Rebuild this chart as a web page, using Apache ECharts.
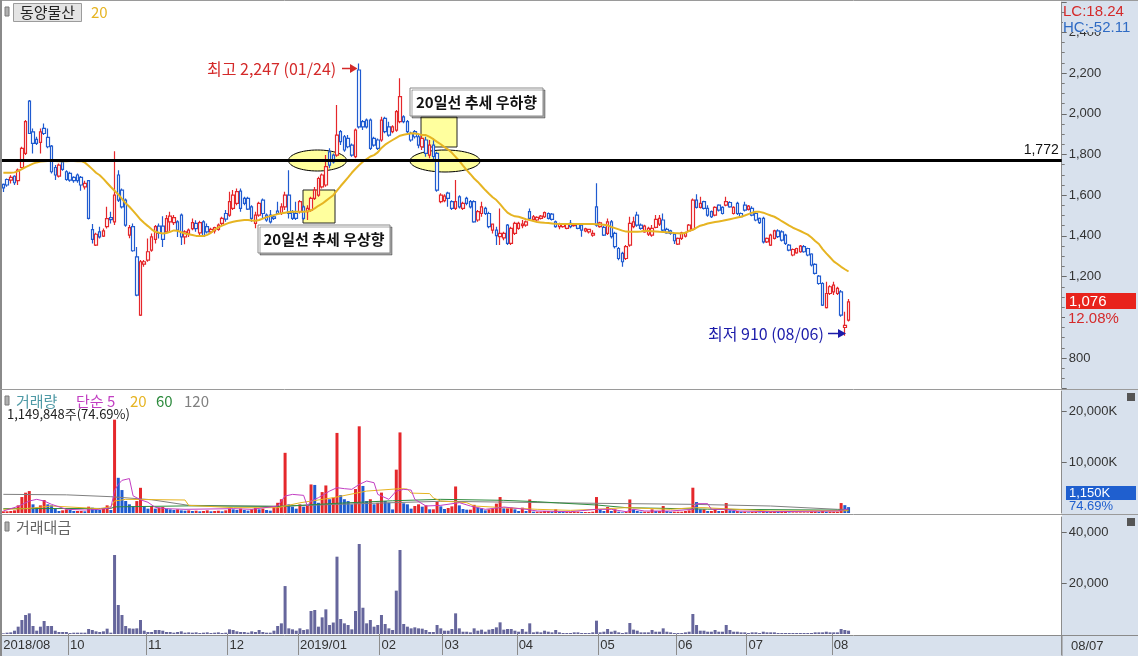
<!DOCTYPE html>
<html><head><meta charset="utf-8">
<script src="https://cdn.jsdelivr.net/npm/echarts@6/dist/echarts.min.js"></script>
<style>html,body{margin:0;padding:0;background:#fff;}#c{width:1138px;height:656px;}</style>
</head><body><div id="c"></div>
<script>
// trading days per month (categories)
const tradingDays = [
 ['2018','08',[31]],
 ['2018','09',[3,4,5,6,7,10,11,12,13,14,17,18,19,20,21,27,28]],
 ['2018','10',[1,2,4,5,8,10,11,12,15,16,17,18,19,22,23,24,25,26,29,30,31]],
 ['2018','11',[1,2,5,6,7,8,9,12,13,14,15,16,19,20,21,22,23,26,27,28,29,30]],
 ['2018','12',[3,4,5,6,7,10,11,12,13,14,17,18,19,20,21,24,26,27,28]],
 ['2019','01',[2,3,4,7,8,9,10,11,14,15,16,17,18,21,22,23,24,25,28,29,30,31]],
 ['2019','02',[1,7,8,11,12,13,14,15,18,19,20,21,22,25,26,27,28]],
 ['2019','03',[4,5,6,7,8,11,12,13,14,15,18,19,20,21,22,25,26,27,28,29]],
 ['2019','04',[1,2,3,4,5,8,9,10,11,12,15,16,17,18,19,22,23,24,25,26,29,30]],
 ['2019','05',[2,3,7,8,9,10,13,14,15,16,17,20,21,22,23,24,27,28,29,30,31]],
 ['2019','06',[3,4,5,7,10,11,12,13,14,17,18,19,20,21,24,25,26,27,28]],
 ['2019','07',[1,2,3,4,5,8,9,10,11,12,15,16,17,18,19,22,23,24,25,26,29,30,31]],
 ['2019','08',[1,2,5,6,7]]
];
const opens = [
1653,1677,1674,1693,1671,1736,1805,2062,1911,1874,
1859,1928,1884,1841,1736,1694,1764,1715,1707,1687,
1699,1687,1641,1671,1431,1355,1420,1399,1445,1490,
1469,1699,1625,1576,1404,1445,1297,1011,1261,1281,
1330,1383,1448,1448,1420,1469,1465,1469,1502,1395,
1412,1436,1461,1415,1469,1445,1420,1425,1432,1461,
1510,1502,1535,1560,1620,1584,1584,1543,1461,1502,
1576,1502,1502,1494,1522,1510,1543,1600,1515,1510,
1519,1543,1519,1527,1584,1600,1641,1650,1813,1797,
1797,1912,1887,1879,1846,1789,2215,1961,1969,1969,
1879,1871,1871,1977,1936,1912,1920,1961,1985,1961,
1904,1912,1887,1838,1871,1797,1846,1805,1568,1573,
1610,1568,1535,1592,1535,1584,1568,1568,1478,1510,
1535,1510,1428,1428,1396,1390,1453,1363,1412,1437,
1450,1453,1519,1481,1478,1486,1494,1510,1507,1469,
1445,1445,1437,1461,1450,1458,1453,1424,1420,1404,
1543,1445,1442,1412,1469,1412,1338,1314,1289,1355,
1445,1502,1453,1420,1409,1404,1442,1458,1478,1432,
1425,1409,1360,1388,1399,1425,1432,1576,1540,1568,
1535,1519,1502,1551,1540,1551,1564,1510,1560,1510,
1551,1530,1535,1510,1486,1486,1371,1355,1388,1425,
1420,1404,1355,1306,1317,1322,1347,1338,1311,1260,
1202,1166,1048,1117,1125,1117,1125,950,986];
const closes = [
1636,1650,1687,1661,1723,1830,1961,1903,1854,1854,
1911,1903,1838,1715,1699,1748,1727,1677,1674,1671,
1671,1650,1658,1486,1383,1408,1395,1425,1485,1480,
1600,1576,1543,1453,1441,1327,1109,1273,1273,1322,
1395,1445,1412,1383,1485,1497,1490,1428,1395,1420,
1428,1465,1436,1465,1399,1420,1432,1441,1453,1486,
1482,1568,1600,1617,1535,1560,1531,1486,1502,1560,
1510,1478,1469,1486,1510,1543,1600,1510,1486,1486,
1568,1486,1535,1584,1625,1682,1699,1740,1748,1764,
1895,1863,1822,1838,1797,1920,1936,1936,1936,1830,
1846,1830,1969,1912,1895,1936,2010,2084,1961,1912,
1871,1887,1846,1879,1805,1846,1790,1625,1600,1595,
1584,1535,1568,1543,1560,1560,1543,1469,1519,1543,
1510,1445,1458,1401,1412,1412,1363,1437,1461,1461,
1458,1469,1486,1494,1491,1497,1514,1486,1481,1445,
1458,1456,1456,1445,1456,1437,1428,1434,1432,1412,
1453,1464,1404,1469,1396,1347,1289,1273,1347,1461,
1469,1453,1437,1448,1437,1437,1481,1486,1428,1415,
1412,1376,1388,1415,1415,1453,1576,1540,1560,1535,
1502,1494,1540,1527,1510,1568,1543,1540,1510,1494,
1527,1546,1502,1478,1465,1371,1388,1404,1425,1396,
1379,1363,1330,1333,1338,1350,1322,1306,1257,1216,
1166,1060,1117,1150,1158,1142,1011,960,1076];
const lows = [
1616,1641,1657,1650,1650,1731,1797,1903,1805,1846,
1805,1895,1830,1707,1674,1687,1720,1671,1666,1661,
1661,1622,1628,1481,1363,1350,1387,1395,1436,1461,
1453,1567,1535,1445,1388,1322,1104,1006,1248,1273,
1322,1363,1387,1346,1412,1420,1453,1395,1355,1359,
1395,1428,1420,1404,1395,1412,1412,1412,1425,1453,
1469,1494,1527,1551,1519,1551,1527,1469,1437,1494,
1486,1469,1461,1478,1502,1502,1527,1486,1478,1478,
1510,1478,1478,1519,1576,1592,1633,1641,1732,1756,
1789,1846,1813,1830,1789,1781,1928,1920,1928,1822,
1838,1822,1863,1904,1887,1904,1912,1953,1953,1904,
1863,1879,1830,1822,1789,1781,1772,1617,1560,1565,
1543,1527,1527,1535,1527,1551,1535,1464,1469,1494,
1502,1437,1412,1355,1355,1379,1355,1355,1404,1430,
1437,1445,1478,1469,1470,1480,1488,1480,1475,1440,
1432,1440,1432,1437,1445,1432,1396,1418,1412,1396,
1445,1440,1399,1404,1387,1338,1280,1248,1282,1347,
1437,1445,1430,1415,1400,1396,1437,1448,1420,1410,
1405,1360,1355,1380,1392,1420,1425,1535,1535,1530,
1494,1488,1496,1520,1505,1545,1538,1505,1502,1490,
1520,1525,1496,1472,1458,1363,1365,1350,1382,1390,
1372,1355,1325,1300,1312,1317,1317,1300,1250,1210,
1160,1055,1043,1110,1109,1110,1003,910,980];
const highs = [
1657,1682,1698,1698,1731,1838,1969,2067,1928,1887,
1928,1952,1928,1846,1748,1756,1769,1723,1715,1693,
1707,1694,1671,1674,1458,1415,1445,1436,1543,1518,
1816,1723,1633,1584,1453,1461,1346,1281,1281,1387,
1412,1453,1461,1497,1502,1518,1502,1477,1510,1428,
1436,1485,1477,1474,1477,1461,1440,1445,1461,1494,
1527,1617,1625,1633,1633,1592,1592,1551,1519,1568,
1584,1510,1527,1502,1568,1560,1617,1723,1527,1568,
1576,1551,1551,1592,1640,1691,1707,1797,1830,1805,
2043,1920,1895,1895,1854,1928,2247,1969,1977,1977,
1887,1879,1985,1985,1961,1944,2018,2174,1993,1969,
1912,1920,1895,1895,1887,1871,1879,1813,1610,1605,
1617,1575,1674,1600,1568,1592,1576,1575,1527,1568,
1543,1519,1461,1445,1535,1420,1458,1445,1469,1469,
1478,1475,1535,1502,1497,1502,1520,1515,1512,1475,
1464,1462,1460,1478,1460,1462,1461,1440,1435,1428,
1658,1470,1450,1486,1478,1420,1345,1322,1355,1494,
1494,1519,1461,1455,1445,1453,1502,1502,1510,1440,
1430,1412,1392,1420,1420,1458,1584,1605,1592,1572,
1551,1525,1545,1556,1545,1592,1570,1545,1568,1515,
1568,1552,1545,1515,1490,1494,1392,1410,1430,1432,
1428,1410,1360,1338,1342,1355,1355,1342,1315,1265,
1208,1172,1175,1158,1175,1150,1134,1027,1090];
const ma20Price = [
1710,1710,1710,1712,1718,1728,1738,1746,1755,1761,
1765,1767,1768,1768,1768,1767,1767,1767,1768,1768,
1767,1767,1760,1745,1728,1710,1698,1680,1660,1640,
1622,1604,1582,1560,1543,1523,1502,1480,1463,1448,
1432,1420,1415,1412,1414,1420,1427,1425,1418,1412,
1408,1404,1400,1399,1399,1405,1415,1430,1442,1450,
1458,1465,1469,1473,1476,1478,1478,1476,1474,1478,
1485,1492,1497,1502,1507,1511,1514,1517,1519,1519,
1519,1519,1521,1525,1535,1548,1558,1572,1586,1600,
1622,1645,1666,1687,1710,1730,1748,1764,1777,1790,
1797,1810,1832,1848,1860,1871,1882,1892,1897,1900,
1904,1903,1900,1895,1895,1886,1875,1862,1850,1836,
1824,1808,1788,1768,1745,1723,1703,1682,1665,1645,
1625,1607,1590,1576,1556,1534,1514,1503,1496,1494,
1488,1482,1478,1473,1468,1466,1464,1463,1461,1459,
1458,1458,1458,1458,1458,1458,1458,1458,1458,1458,
1457,1456,1455,1452,1444,1438,1432,1426,1421,1420,
1420,1420,1422,1425,1424,1423,1422,1420,1419,1418,
1416,1414,1413,1412,1415,1425,1430,1440,1450,1455,
1461,1465,1468,1471,1474,1478,1482,1486,1490,1494,
1500,1507,1514,1519,1518,1514,1507,1500,1494,1484,
1472,1461,1450,1440,1432,1424,1415,1406,1392,1375,
1360,1335,1314,1295,1275,1262,1248,1236,1225];
// volume in thousand shares
const volumes = [
330,330,390,520,1500,3130,3980,4300,1700,1045,
1500,2550,1700,1500,850,390,520,720,590,390,
390,390,330,1240,1045,720,590,850,1500,590,
18300,6900,4500,2350,1700,1360,2340,4940,1300,850,
1370,850,1045,1180,850,720,590,720,520,450,
520,390,450,330,390,520,330,390,450,330,
520,850,720,590,850,590,460,720,1045,720,
850,590,460,1300,2000,2700,11800,1700,1240,850,
1700,1240,1500,5600,5500,2000,4100,5400,2700,3000,
15700,3500,2700,2340,1700,4700,17000,5300,2340,2700,
1700,2000,4000,2340,2000,700,8500,15800,1900,1700,
850,1370,1700,1240,1500,720,720,2200,1300,780,
975,1300,5200,1500,780,650,650,1600,1045,910,
520,720,850,1830,3130,910,910,1045,720,390,
1045,390,2660,260,260,260,390,390,260,720,
260,200,200,200,260,260,200,200,200,260,
3130,720,390,1170,390,720,260,130,260,2660,
720,390,260,260,260,720,390,390,1370,390,
260,260,260,260,390,520,4960,2150,720,720,
390,390,720,390,390,1960,520,390,390,260,
260,130,200,200,130,390,260,260,260,200,
200,200,130,130,130,130,130,130,260,260,
200,390,260,260,260,260,1950,1540,1150];
// trading value in million won
const tradeValues = [
260,520,650,1300,2875,5490,7450,8100,3140,1300,
2875,5100,3140,3140,1300,780,780,780,390,520,
520,520,520,1960,1570,1045,780,1045,2090,520,
30970,11370,7450,3140,2220,2090,2220,5490,1300,780,
780,1570,1570,1300,780,780,520,780,1045,520,
650,520,650,390,520,650,390,520,650,390,
520,1830,1570,1045,780,780,520,1045,780,1570,
780,520,520,1300,3140,4180,18800,2220,1830,1300,
2220,1570,1830,9020,9410,2875,6535,9670,3530,4500,
30320,5880,4180,3530,1830,9020,35290,10300,4180,5490,
2875,3530,7450,3920,2220,1570,17000,32940,3920,2875,
2220,2610,2220,2090,1570,780,780,3530,2220,1300,
1300,1960,8100,2220,900,900,650,2220,1300,1700,
900,1700,1960,2610,4575,1700,1960,1960,1300,900,
1960,900,4180,650,900,650,1300,900,650,1560,
650,390,390,390,650,650,390,390,390,650,
5230,650,900,1960,900,1300,650,390,650,4310,
1700,1300,650,650,650,1560,900,900,2220,900,
650,390,390,390,650,900,7840,3530,1300,1300,
900,900,1560,900,900,3530,1560,900,900,650,
650,390,650,650,390,900,650,650,650,390,
390,390,390,390,390,390,390,390,390,650,
650,650,900,650,650,650,1960,1570,1300];
// volume moving averages: [dayIndex, thousand shares]
const volMa5 = [[0,400],[4,1300],[7,2350],[9,2680],[11,2350],[13,1700],[17,720],[22,590],[26,720],[29,1000],[30,4400],[31,5600],[32,6400],[34,6750],[35,3360],[37,2600],[39,2100],[41,1100],[44,850],[49,720],[62,850],[67,720],[74,1370],[76,3330],[78,3650],[81,3460],[82,1370],[83,2350],[85,3000],[88,4300],[90,4960],[92,4770],[94,4640],[96,5600],[98,6270],[100,5940],[101,3650],[104,2680],[106,4300],[108,4640],[110,4500],[111,2680],[114,1370],[118,1500],[123,2030],[126,1370],[130,720],[134,1045],[135,1175],[141,720],[144,390],[153,260],[160,720],[164,720],[168,260],[170,720],[173,390],[180,390],[186,720],[187,1830],[190,1830],[191,720],[195,720],[198,390],[207,260],[225,390],[228,800]];
const volMa20 = [[0,720],[6,850],[13,1370],[26,850],[29,1240],[30,2350],[33,2680],[49,2550],[50,1500],[62,1045],[74,1045],[76,1370],[80,2000],[89,3000],[98,4300],[107,4770],[109,4700],[110,3900],[115,3800],[116,2950],[118,2350],[125,2030],[127,1370],[135,1045],[144,720],[153,520],[160,720],[168,1045],[180,720],[186,1045],[189,1045],[207,390],[228,450]];
const volMa60 = [[0,850],[29,900],[30,1200],[50,1400],[75,1300],[90,1900],[105,2400],[118,2680],[135,2480],[144,2220],[150,1960],[160,1570],[168,1050],[190,750],[228,550]];
const volMa120 = [[0,3660],[17,3560],[29,3200],[40,2600],[50,1500],[74,1300],[90,1700],[118,2300],[160,1900],[186,1700],[207,1370],[225,720],[228,700]];
const refLevel = 1772;

// ---- build categories ----
const cats = [];
const labelMap = {};
let lastLab = -100;
tradingDays.forEach(([y, m, ds]) => {
  ds.forEach((d, k) => {
    const idx = cats.length;
    const key = y + '/' + m + '/' + String(d).padStart(2, '0');
    cats.push(key);
    if (k === 0 && idx - lastLab >= 8) {
      labelMap[key] = (idx === 0 || m === '01') ? (y + '/' + m) : m;
      lastLab = idx;
    }
  });
});
const nData = cats.length;
for (let i = nData; i < 286; i++) cats.push('pad' + i);

const ohlc = opens.map((o, i) => [o, closes[i], lows[i], highs[i]]);
const RED = '#e5272b', BLUE = '#1f5bd0';
const volData = volumes.map((v, i) => ({
  value: v,
  itemStyle: { color: (i === 0 || v >= volumes[i - 1]) ? RED : BLUE }
}));

const KR = '"Noto Sans CJK KR", sans-serif';
const NUM = '"Liberation Sans", Arial, sans-serif';
const axisBase = {
  type: 'value', position: 'right', splitLine: { show: false },
  axisLine: { show: true, lineStyle: { color: '#8c8c8c' } },
  axisTick: { show: true, length: 5, lineStyle: { color: '#6a6a6a' } },
  axisLabel: { showMinLabel: false, showMaxLabel: false, color: '#333', fontSize: 13, margin: 7, fontFamily: NUM }
};
const isLab = (i, v) => labelMap[v] !== undefined;

const txt = (x, y, text, fill, size, extra) => ({
  type: 'text', x: x, y: y, z: 100,
  style: Object.assign({ text: text, fill: fill, font: size + 'px ' + KR, textVerticalAlign: 'middle' }, extra || {})
});
const rect = (x, y, w, h, fill, stroke, z, extra) => ({
  type: 'rect', z: z, shape: { x: x, y: y, width: w, height: h },
  style: Object.assign({ fill: fill, stroke: stroke || null, lineWidth: 1 }, extra || {})
});
const line = (x1, y1, x2, y2, stroke, w, z) => ({
  type: 'line', z: z || 50, shape: { x1: x1, y1: y1, x2: x2, y2: y2 }, style: { stroke: stroke, lineWidth: w || 1 }
});

const elements = [
  rect(1062, 0, 76, 636, '#d8e1ed', null, -10),
  rect(0, 636, 1138, 20, '#d8e1ed', null, -10),
  line(0, 0.5, 1138, 0.5, '#9a9a9a', 1),
  line(1, 0, 1, 656, '#8a8a8a', 2),
  line(0, 389.5, 1138, 389.5, '#9a9a9a', 1),
  line(0, 514.5, 1138, 514.5, '#9a9a9a', 1),
  line(0, 635.5, 1138, 635.5, '#8a8a8a', 1),
  line(1062, 636, 1062, 656, '#8a8a8a', 1),
  // price header
  rect(5, 7, 4, 9, '#b0b0b0', '#7a7a7a', 100),
  rect(13.5, 3.5, 68, 18, '#e4e4e4', '#9c9c9c', 100),
  txt(47.5, 12.5, '동양물산', '#222', 15, { textAlign: 'center' }),
  txt(91, 12.5, '20', '#e6b422', 15),
  // volume header
  rect(5, 396, 4, 9, '#b0b0b0', '#7a7a7a', 100),
  txt(16, 401, '거래량', '#4f9aa6', 15),
  txt(76, 401, '단순 5', '#c23ec2', 15),
  txt(130, 401, '20', '#e6b422', 15),
  txt(156, 401, '60', '#2e8b3e', 15),
  txt(184, 401, '120', '#808080', 15),
  txt(7, 414, '1,149,848주(74.69%)', '#222', 13),
  // value header
  rect(5, 522, 4, 9, '#b0b0b0', '#7a7a7a', 100),
  txt(16, 527, '거래대금', '#666', 15),
  // right side info
  txt(1063, 11.5, 'LC:18.24', '#d42a2a', 15, { font: '15px ' + NUM }),
  rect(1063, 20, 74, 12, '#d8e1ed', null, 99),
  txt(1063, 27.5, 'HC:-52.11', '#2f6bc4', 15, { font: '15px ' + NUM }),
  rect(1066, 293, 70, 16, '#e8231c', null, 100),
  txt(1069, 301.5, '1,076', '#fff', 15, { font: '15px ' + NUM }),
  rect(1065, 311, 72, 15, '#d8e1ed', null, 99),
  txt(1068, 318.5, '12.08%', '#d42a2a', 15, { font: '15px ' + NUM }),
  rect(1066, 486, 70, 14, '#1f5fcf', null, 100),
  txt(1069, 493.5, '1,150K', '#fff', 13, { font: '13px ' + NUM }),
  txt(1069, 506.5, '74.69%', '#1f5fcf', 13, { font: '13px ' + NUM }),
  txt(1071, 646, '08/07', '#333', 13, { font: '13px ' + NUM }),
  rect(1127, 393, 8, 8, '#555', null, 100),
  rect(1127, 518, 8, 8, '#555', null, 100),
  // highlight shapes (under candles)
  { type: 'ellipse', z: 1, shape: { cx: 317.5, cy: 160.5, rx: 29, ry: 10.5 }, style: { fill: '#ffff9e', stroke: '#000', lineWidth: 1 } },
  { type: 'ellipse', z: 1, shape: { cx: 445, cy: 161, rx: 35, ry: 11 }, style: { fill: '#ffff9e', stroke: '#000', lineWidth: 1 } },
  rect(303, 190, 32, 33, '#ffff9e', '#222', 1),
  rect(421, 117, 36, 30, '#ffff9e', '#222', 1),
  // text boxes
  rect(258, 225, 132, 28, '#fff', '#8a8a8a', 100, { shadowColor: 'rgba(0,0,0,0.35)', shadowOffsetX: 2, shadowOffsetY: 2, shadowBlur: 0 }),
  txt(324, 239.5, '20일선 추세 우상향', '#111', 15, { textAlign: 'center', font: 'bold 15px ' + KR }),
  rect(410, 88, 133, 28, '#fff', '#8a8a8a', 100, { shadowColor: 'rgba(0,0,0,0.35)', shadowOffsetX: 2, shadowOffsetY: 2, shadowBlur: 0 }),
  txt(476.5, 102.5, '20일선 추세 우하향', '#111', 15, { textAlign: 'center', font: 'bold 15px ' + KR }),
  // high / low annotations
  txt(207, 69, '최고 2,247 (01/24)', '#d42a2a', 16),
  line(342, 68.5, 352, 68.5, '#d42a2a', 1.5, 100),
  { type: 'polygon', z: 100, shape: { points: [[350, 64], [357.5, 68.5], [350, 73]] }, style: { fill: '#d42a2a' } },
  txt(708, 333.5, '최저 910 (08/06)', '#1c1caa', 16),
  line(828, 333.5, 839, 333.5, '#1c1caa', 1.5, 100),
  { type: 'polygon', z: 100, shape: { points: [[838, 329], [846, 333.5], [838, 338]] }, style: { fill: '#1c1caa' } }
];

const gridBox = { left: 1.5, width: 1060.2 };
const option = {
  animation: false,
  backgroundColor: '#ffffff',
  textStyle: { fontFamily: KR },
  grid: [
    Object.assign({ top: 2, height: 386 }, gridBox),
    Object.assign({ top: 391, height: 122 }, gridBox),
    Object.assign({ top: 517, height: 117 }, gridBox)
  ],
  xAxis: [
    { type: 'category', gridIndex: 0, data: cats, boundaryGap: true, show: false },
    { type: 'category', gridIndex: 1, data: cats, boundaryGap: true, show: false },
    { type: 'category', gridIndex: 2, data: cats, boundaryGap: true,
      axisLine: { show: false },
      axisTick: { show: true, interval: isLab, length: 21, lineStyle: { color: '#8c8c8c' } },
      axisLabel: { interval: isLab, formatter: (v) => labelMap[v] || '', align: 'left', margin: 5,
        color: '#333', fontSize: 13, fontFamily: NUM }
    }
  ],
  yAxis: [
    Object.assign({}, axisBase, { gridIndex: 0, min: 652.7, max: 2549, splitNumber: 9,
      minorTick: { show: true, splitNumber: 4, length: 3, lineStyle: { color: '#7a7a7a' } } }),
    Object.assign({}, axisBase, { gridIndex: 1, min: 0, max: 23920, splitNumber: 2,
      axisLabel: Object.assign({}, axisBase.axisLabel, { formatter: (v) => v.toLocaleString('en-US') + 'K' }) }),
    Object.assign({}, axisBase, { gridIndex: 2, min: 0, max: 45880, splitNumber: 2,
      axisLabel: Object.assign({}, axisBase.axisLabel, { formatter: (v) => v.toLocaleString('en-US') }) })
  ],
  series: [
    { type: 'candlestick', xAxisIndex: 0, yAxisIndex: 0, data: ohlc, barWidth: 3,
      itemStyle: { color: '#ffffff', color0: '#ffffff', borderColor: RED, borderColor0: BLUE, borderWidth: 1.2 },
      markLine: { silent: true, symbol: ['none', 'none'], animation: false,
        data: [{ yAxis: refLevel }],
        lineStyle: { color: '#000', width: 3, type: 'solid' },
        label: { formatter: '1,772', position: 'insideEndTop', color: '#111', fontSize: 14, fontFamily: NUM, distance: 3 }
      }
    },
    { type: 'line', xAxisIndex: 0, yAxisIndex: 0, data: ma20Price, showSymbol: false, z: 3,
      lineStyle: { color: '#e6b422', width: 2 }, itemStyle: { color: '#e6b422' } },
    { type: 'bar', xAxisIndex: 1, yAxisIndex: 1, data: volData, barWidth: 3 },
    { type: 'line', xAxisIndex: 1, yAxisIndex: 1, data: volMa120, showSymbol: false, lineStyle: { color: '#808080', width: 1 } },
    { type: 'line', xAxisIndex: 1, yAxisIndex: 1, data: volMa60, showSymbol: false, lineStyle: { color: '#2e8b3e', width: 1 } },
    { type: 'line', xAxisIndex: 1, yAxisIndex: 1, data: volMa20, showSymbol: false, lineStyle: { color: '#e6b422', width: 1 } },
    { type: 'line', xAxisIndex: 1, yAxisIndex: 1, data: volMa5, showSymbol: false, lineStyle: { color: '#c23ec2', width: 1 } },
    { type: 'bar', xAxisIndex: 2, yAxisIndex: 2, data: tradeValues, barWidth: 3, itemStyle: { color: '#66669c' } }
  ],
  graphic: { elements: elements }
};
const chart = echarts.init(document.getElementById('c'), null, { renderer: 'canvas' });
chart.setOption(option);
</script></body></html>
